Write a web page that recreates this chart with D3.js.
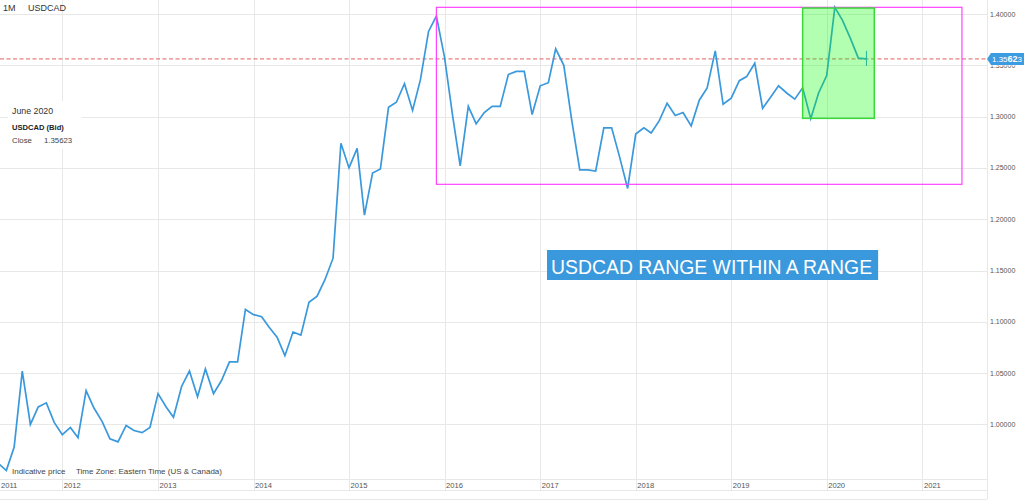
<!DOCTYPE html>
<html>
<head>
<meta charset="utf-8">
<script src="https://cdn.jsdelivr.net/npm/d3@7"></script>
<style>
  body { margin: 0; background: #fff; }
  svg { display: block; }
  text { font-family: "Liberation Sans", Arial, sans-serif; }
</style>
</head>
<body>
<div id="chart"></div>
<script>
// monthly closes, one per month starting at firstMonth
var firstMonth = "2011-04";
var closes = [
  0.975, 0.962, 0.955, 0.978, 1.052, 1.000, 1.017, 1.021, 1.002,
  0.990, 0.997, 0.987, 1.033, 1.016, 1.003, 0.986, 0.983, 0.999, 0.994, 0.992, 0.997,
  1.030, 1.017, 1.007, 1.037, 1.052, 1.027, 1.054, 1.030, 1.043, 1.061, 1.061, 1.112,
  1.107, 1.105, 1.095, 1.085, 1.067, 1.090, 1.087, 1.119, 1.125, 1.141, 1.162, 1.274,
  1.250, 1.269, 1.204, 1.245, 1.249, 1.309, 1.314, 1.332, 1.306, 1.336, 1.383, 1.398,
  1.358, 1.301, 1.252, 1.310, 1.293, 1.304, 1.310, 1.310, 1.341, 1.344, 1.344, 1.302,
  1.330, 1.333, 1.366, 1.350, 1.297, 1.248, 1.248, 1.247, 1.289, 1.289, 1.260, 1.230,
  1.283, 1.289, 1.284, 1.296, 1.313, 1.301, 1.304, 1.291, 1.316, 1.328, 1.364, 1.312,
  1.318, 1.335, 1.339, 1.352, 1.308, 1.319, 1.330, 1.323, 1.317, 1.328, 1.298, 1.323,
  1.340, 1.4065, 1.394, 1.376, 1.357, 1.35623
];
var yearTicks = [2011, 2012, 2013, 2014, 2015, 2016, 2017, 2018, 2019, 2020, 2021];
var priceTicks = [1.00, 1.05, 1.10, 1.15, 1.20, 1.25, 1.30, 1.35, 1.40];
var lastClose = 1.35623;

// annotation boxes (data coords)
var outerRange = { from: "2015-12", to: "2021-06", low: 1.2340, high: 1.4065 };
var innerRange = { from: "2019-10", to: "2020-07", low: 1.2983, high: 1.4058 };
var noteText = "USDCAD RANGE WITHIN A RANGE";

var parseMonth = d3.timeParse("%Y-%m");
var start = parseMonth(firstMonth);
var data = closes.map(function(v, i) {
  return { date: d3.timeMonth.offset(start, i), close: v };
});

var W = 1024, H = 500;
var plotRight = 987, plotBottom = 479;

var svg = d3.select("#chart").append("svg")
  .attr("width", W)
  .attr("height", H);

var x = d3.scaleTime()
  .domain([new Date(2012, 0, 1), new Date(2020, 0, 1)])
  .range([62.3, 826.7]);

var y = d3.scaleLinear()
  .domain([1.0, 1.4])
  .range([424.4, 14]);

var py = y(lastClose);

var defs = svg.append("defs");
defs.append("clipPath")
  .attr("id", "plot-clip")
  .append("rect")
  .attr("x", 0).attr("y", 0)
  .attr("width", plotRight).attr("height", plotBottom);

// the tick label hidden under the price tag only shows its lower edge
defs.append("clipPath")
  .attr("id", "under-tag")
  .append("rect")
  .attr("x", plotRight).attr("y", py + 6.5)
  .attr("width", W - plotRight).attr("height", 20);

// grid
var grid = svg.append("g").attr("class", "grid")
  .attr("stroke", "#e8e8e8")
  .attr("stroke-width", 1);

grid.selectAll(".hgrid")
  .data(priceTicks)
  .enter()
  .append("line")
  .attr("class", "hgrid")
  .attr("x1", 0)
  .attr("x2", plotRight)
  .attr("y1", function(d) { return Math.round(y(d)) + 0.5; })
  .attr("y2", function(d) { return Math.round(y(d)) + 0.5; });

grid.selectAll(".vgrid")
  .data(yearTicks.slice(1))
  .enter()
  .append("line")
  .attr("class", "vgrid")
  .attr("x1", function(d) { return Math.round(x(new Date(d, 0, 1))) + 0.5; })
  .attr("x2", function(d) { return Math.round(x(new Date(d, 0, 1))) + 0.5; })
  .attr("y1", 0)
  .attr("y2", 490);

// axis band lines + right border
[plotBottom, 490, 499].forEach(function(yy) {
  grid.append("line")
    .attr("x1", 0).attr("x2", plotRight)
    .attr("y1", yy + 0.5).attr("y2", yy + 0.5);
});
grid.append("line")
  .attr("x1", plotRight + 0.5).attr("x2", plotRight + 0.5)
  .attr("y1", 0).attr("y2", 499);

// year labels
svg.selectAll(".year-label")
  .data(yearTicks)
  .enter()
  .append("text")
  .attr("class", "year-label")
  .attr("x", function(d) { return Math.max(1, x(new Date(d, 0, 1)) + 1.5); })
  .attr("y", 488)
  .text(function(d) { return d; })
  .attr("fill", "#555")
  .style("font-size", "7.6px");

// price labels
svg.selectAll(".price-label")
  .data(priceTicks)
  .enter()
  .append("text")
  .attr("class", "price-label")
  .attr("x", 990)
  .attr("y", function(d) { return y(d) + 2.5; })
  .attr("clip-path", function(d) {
    return Math.abs(y(d) - py) < 10 ? "url(#under-tag)" : null;
  })
  .text(function(d) { return d3.format(".5f")(d); })
  .attr("fill", "#555")
  .style("font-size", "7px");

// current price dashed line
svg.append("line")
  .attr("x1", 0)
  .attr("x2", plotRight)
  .attr("y1", py)
  .attr("y2", py)
  .attr("stroke", "#e06060")
  .attr("stroke-width", 1)
  .attr("stroke-dasharray", "4,2.5");

// price line
var line = d3.line()
  .x(function(d) { return x(d.date); })
  .y(function(d) { return y(d.close); });

var plot = svg.append("g").attr("clip-path", "url(#plot-clip)");

plot.append("path")
  .datum(data)
  .attr("d", line)
  .attr("fill", "none")
  .attr("stroke", "#3a98dc")
  .attr("stroke-width", 1.7)
  .attr("stroke-linejoin", "miter");

// cursor tick on last bar
var last = data[data.length - 1];
plot.append("line")
  .attr("x1", x(last.date)).attr("x2", x(last.date))
  .attr("y1", y(last.close) - 8).attr("y2", y(last.close) + 7)
  .attr("stroke", "#3a98dc")
  .attr("stroke-width", 1);

// outer range (magenta)
svg.append("rect")
  .attr("x", x(parseMonth(outerRange.from)))
  .attr("y", y(outerRange.high))
  .attr("width", x(parseMonth(outerRange.to)) - x(parseMonth(outerRange.from)))
  .attr("height", y(outerRange.low) - y(outerRange.high))
  .attr("fill", "none")
  .attr("stroke", "#ff44ff")
  .attr("stroke-width", 1.2);

// inner range (green)
svg.append("rect")
  .attr("x", x(parseMonth(innerRange.from)))
  .attr("y", y(innerRange.high))
  .attr("width", x(parseMonth(innerRange.to)) - x(parseMonth(innerRange.from)))
  .attr("height", y(innerRange.low) - y(innerRange.high))
  .attr("fill", "rgba(0,255,0,0.3)")
  .attr("stroke", "#3ad83a")
  .attr("stroke-width", 1.5);

// note box
var note = svg.append("g").attr("class", "note");
var noteRect = note.append("rect")
  .attr("fill", "#3a98dc");
var noteLabel = note.append("text")
  .attr("x", 551)
  .attr("y", 274)
  .attr("fill", "#fff")
  .style("font-size", "19.4px")
  .text(noteText);
var bb = noteLabel.node().getBBox();
noteRect
  .attr("x", bb.x - 4)
  .attr("y", 250)
  .attr("width", bb.width + 10)
  .attr("height", 30);

// current price label
svg.append("path")
  .attr("d", "M" + plotRight + "," + py + "L991," + (py - 6) + "L1024," + (py - 6) +
    "L1024," + (py + 6) + "L991," + (py + 6) + "Z")
  .attr("fill", "#3d9be0");
var pl = svg.append("text")
  .attr("x", 992)
  .attr("y", py + 3)
  .attr("fill", "#fff")
  .style("font-size", "8px");
pl.append("tspan").text("1.35");
pl.append("tspan").text("62").style("font-weight", "bold").style("font-size", "9px");
pl.append("tspan").text("3");

// header
svg.append("text")
  .attr("x", 3).attr("y", 11)
  .attr("fill", "#333")
  .style("font-size", "9px")
  .text("1M");
svg.append("text")
  .attr("x", 28).attr("y", 11)
  .attr("fill", "#333")
  .style("font-size", "9px")
  .text("USDCAD");

// hover info box
var info = svg.append("g").attr("class", "info");
info.append("rect")
  .attr("x", 8).attr("y", 101)
  .attr("width", 74).attr("height", 48)
  .attr("fill", "#fff")
  .attr("opacity", 0.92);
info.append("text")
  .attr("x", 12).attr("y", 113.5)
  .attr("fill", "#333")
  .style("font-size", "8.8px")
  .text("June 2020");
info.append("text")
  .attr("x", 12).attr("y", 130)
  .attr("fill", "#222")
  .style("font-size", "7.6px")
  .style("font-weight", "bold")
  .text("USDCAD (Bid)");
info.append("text")
  .attr("x", 12).attr("y", 142.5)
  .attr("fill", "#444")
  .style("font-size", "7.8px")
  .text("Close");
info.append("text")
  .attr("x", 44).attr("y", 142.5)
  .attr("fill", "#444")
  .style("font-size", "7.8px")
  .text(d3.format(".5f")(lastClose));

// footer
svg.append("text")
  .attr("x", 12).attr("y", 474)
  .attr("fill", "#444")
  .style("font-size", "8px")
  .text("Indicative price");
svg.append("text")
  .attr("x", 76).attr("y", 474)
  .attr("fill", "#444")
  .style("font-size", "8px")
  .text("Time Zone: Eastern Time (US & Canada)");
</script>
</body>
</html>
